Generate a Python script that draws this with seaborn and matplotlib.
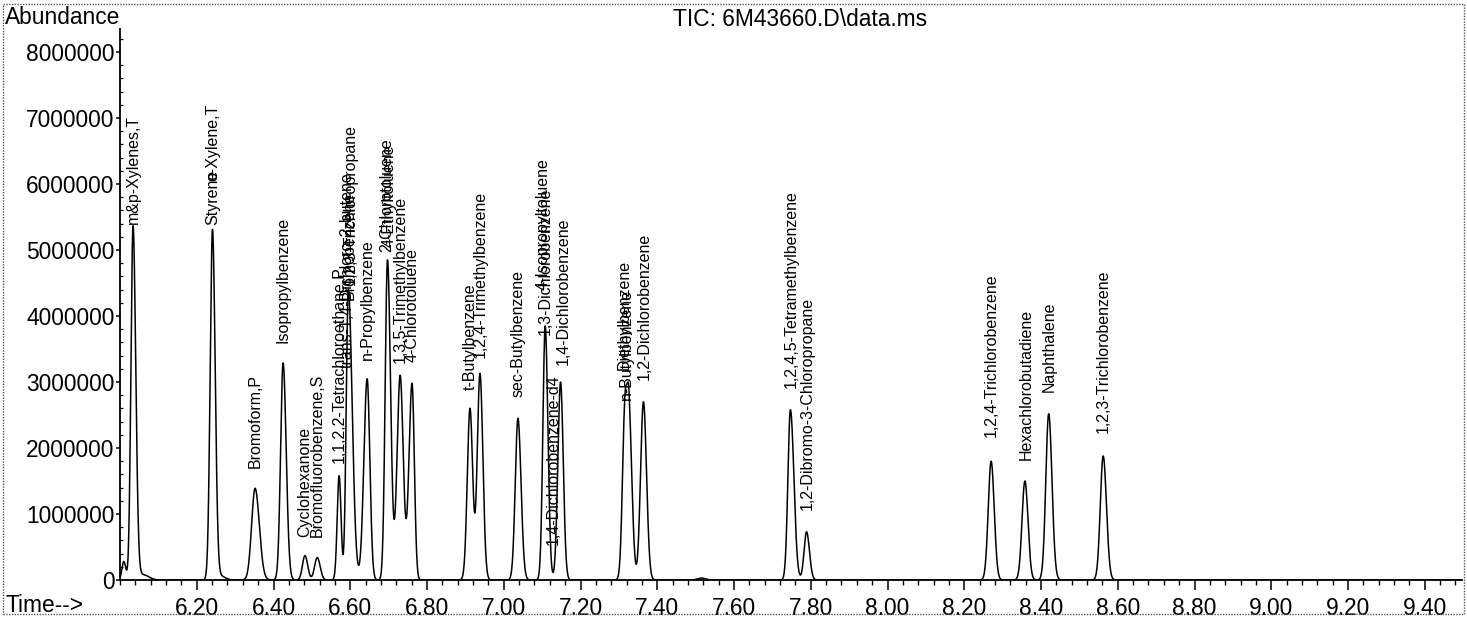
import numpy as np
import pandas as pd
import matplotlib
matplotlib.use("Agg")
import matplotlib.pyplot as plt
from matplotlib.patches import Rectangle
from matplotlib.ticker import MultipleLocator
import seaborn as sns

# ---- chromatogram peaks: retention time (min), apex abundance, front / tail widths (min)
peak_rt = [6.010, 6.034, 6.060, 6.241, 6.262, 6.352, 6.425, 6.482, 6.514, 6.571,
           6.595, 6.644, 6.697, 6.730, 6.761, 6.912, 6.938, 7.037, 7.108, 7.148,
           7.316, 7.327, 7.364, 7.515, 7.747, 7.789, 8.270, 8.358, 8.420, 8.562]
peak_height = [0.28e6, 5.35e6, 0.08e6, 5.30e6, 0.06e6, 1.39e6, 3.29e6, 0.37e6, 0.34e6, 1.58e6,
               4.40e6, 3.05e6, 4.85e6, 3.10e6, 2.98e6, 2.60e6, 3.13e6, 2.45e6, 3.85e6, 3.00e6,
               2.62e6, 2.30e6, 2.70e6, 0.03e6, 2.58e6, 0.73e6, 1.80e6, 1.50e6, 2.52e6, 1.88e6]
peak_front = [0.005, 0.0055, 0.015, 0.006, 0.012, 0.009, 0.0065, 0.0065, 0.007, 0.005,
              0.0055, 0.0085, 0.006, 0.008, 0.008, 0.007, 0.007, 0.007, 0.006, 0.007,
              0.0065, 0.005, 0.0075, 0.010, 0.0065, 0.0065, 0.0075, 0.0075, 0.0075, 0.0075]
peak_tail = [0.005, 0.007, 0.015, 0.007, 0.012, 0.011, 0.008, 0.007, 0.0075, 0.005,
             0.010, 0.007, 0.008, 0.008, 0.006, 0.007, 0.0075, 0.008, 0.007, 0.007,
             0.006, 0.0075, 0.008, 0.010, 0.009, 0.0075, 0.008, 0.008, 0.0085, 0.0085]

# ---- compound annotations: name, retention time, abundance where the label starts
compound_names = [
    "m&p-Xylenes,T", "Styrene", "o-Xylene,T", "Bromoform,P", "Isopropylbenzene",
    "Cyclohexanone", "Bromofluorobenzene,S", "1,1,2,2-Tetrachloroethane,P",
    "trans-1,4-Dichloro-2-butene", "Bromobenzene", "1,2,3-Trichloropropane",
    "n-Propylbenzene", "2-Chlorotoluene", "4-Ethyltoluene", "1,3,5-Trimethylbenzene",
    "4-Chlorotoluene", "t-Butylbenzene", "1,2,4-Trimethylbenzene", "sec-Butylbenzene",
    "4-Isopropyltoluene", "1,3-Dichlorobenzene", "1,4-Dichlorobenzene-d4",
    "1,4-Dichlorobenzene", "Diethylbenzene", "n-Butylbenzene", "1,2-Dichlorobenzene",
    "1,2,4,5-Tetramethylbenzene", "1,2-Dibromo-3-Chloropropane",
    "1,2,4-Trichlorobenzene", "Hexachlorobutadiene", "Naphthalene",
    "1,2,3-Trichlorobenzene",
]
compound_rt = [6.034, 6.241, 6.241, 6.352, 6.425,
               6.482, 6.514, 6.571,
               6.592, 6.598, 6.600,
               6.644, 6.694, 6.700, 6.730,
               6.761, 6.912, 6.940, 7.037,
               7.103, 7.108, 7.128,
               7.155, 7.315, 7.320, 7.366,
               7.750, 7.791,
               8.270, 8.362, 8.422,
               8.563]
label_base = [5.39e6, 5.38e6, 6.05e6, 1.70e6, 3.59e6,
              0.65e6, 0.65e6, 1.77e6,
              3.21e6, 4.24e6, 4.47e6,
              3.33e6, 4.97e6, 5.05e6, 3.29e6,
              3.30e6, 2.88e6, 3.36e6, 2.77e6,
              4.39e6, 3.71e6, 0.53e6,
              3.26e6, 3.18e6, 2.73e6, 3.03e6,
              2.91e6, 1.06e6,
              2.17e6, 1.82e6, 2.85e6,
              2.23e6]

# ---- axis ticks
x_tick_values = [6.20, 6.40, 6.60, 6.80, 7.00, 7.20, 7.40, 7.60, 7.80, 8.00,
                 8.20, 8.40, 8.60, 8.80, 9.00, 9.20, 9.40]
x_tick_labels = ["6.20", "6.40", "6.60", "6.80", "7.00", "7.20", "7.40", "7.60", "7.80",
                 "8.00", "8.20", "8.40", "8.60", "8.80", "9.00", "9.20", "9.40"]
y_tick_values = [0, 1000000, 2000000, 3000000, 4000000, 5000000, 6000000, 7000000, 8000000]
y_tick_labels = ["0", "1000000", "2000000", "3000000", "4000000", "5000000",
                 "6000000", "7000000", "8000000"]

# ---- build the total ion current trace from the peak table (bi-Gaussian peak shapes)
time = np.arange(6.0, 9.5, 0.0005)
signal = np.zeros_like(time)
for rt, h, sf, st in zip(peak_rt, peak_height, peak_front, peak_tail):
    s = np.where(time < rt, sf, st)
    signal += h * np.exp(-0.5 * ((time - rt) / s) ** 2)
trace = pd.DataFrame({"time": time, "abundance": signal})

sns.set_style("ticks")
plt.rcParams["font.family"] = ["Liberation Sans", "DejaVu Sans"]
plt.rcParams["text.color"] = "black"
plt.rcParams["xtick.color"] = "black"
plt.rcParams["ytick.color"] = "black"
plt.rcParams["xtick.labelcolor"] = "black"
plt.rcParams["ytick.labelcolor"] = "black"

W, H = 1467, 618
fig = plt.figure(figsize=(W / 100, H / 100), dpi=100)
fig.patch.set_facecolor("white")
ax = fig.add_axes([120 / W, 38 / H, 1342 / W, 551 / H])

sns.lineplot(data=trace, x="time", y="abundance", ax=ax, color="black",
             linewidth=1.1, estimator=None)

ax.set_xlim(6.0, 9.497)
ax.set_ylim(0, 8.35e6)
ax.set_xlabel("")
ax.set_ylabel("")

ax.set_xticks(x_tick_values, x_tick_labels)
ax.set_yticks(y_tick_values, y_tick_labels)
ax.xaxis.set_minor_locator(MultipleLocator(0.04))
ax.yaxis.set_minor_locator(MultipleLocator(200000))
ax.tick_params(axis="x", which="major", direction="out", length=7, width=1.1,
               pad=5, labelsize=16.4, colors="black")
ax.tick_params(axis="x", which="minor", direction="out", length=3.5, width=1.0,
               colors="black")
ax.tick_params(axis="y", which="major", direction="out", length=3, width=1.1,
               pad=1, labelsize=16.4, colors="black")
ax.tick_params(axis="y", which="minor", direction="in", length=2.5, width=0.9,
               colors="black")

for side in ("top", "right"):
    ax.spines[side].set_visible(False)
for side in ("left", "bottom"):
    ax.spines[side].set_linewidth(1.3)
    ax.spines[side].set_color("black")

# compound labels, rotated, starting just above their peaks
for name, rt, base in zip(compound_names, compound_rt, label_base):
    ax.text(rt, base, name, rotation=90, ha="center", va="bottom",
            fontsize=11.5, color="black", clip_on=False)

# header and axis captions
fig.text(5 / W, 1 - 17 / H, "Abundance", ha="left", va="center", fontsize=16.4,
         color="black")
fig.text(800 / W, 1 - 20 / H, "TIC: 6M43660.D\\data.ms", ha="center", va="center",
         fontsize=16.4, color="black")
fig.text(5 / W, 1 - 606 / H, "Time-->", ha="left", va="center", fontsize=16.4,
         color="black")

# dotted page frame
fig.patches.append(Rectangle((3 / W, 4 / H), 1 - 6 / W, 1 - 8 / H,
                             transform=fig.transFigure, fill=False,
                             linestyle=(0, (1, 1)), linewidth=1.0, edgecolor="#555555"))

fig.savefig("out.png", dpi=100, facecolor="white")
